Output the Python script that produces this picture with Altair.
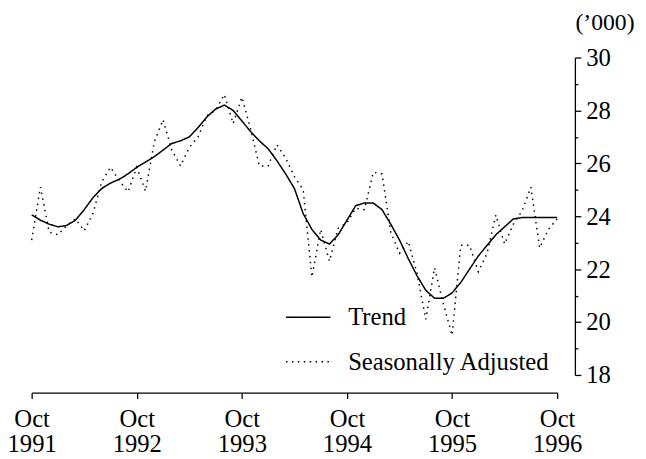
import pandas as pd
import altair as alt

# monthly index, Oct 1991 = 0 ... Oct 1996 = 60
trend = [24.05, 23.85, 23.7, 23.6, 23.65, 23.85, 24.25, 24.7, 25.05, 25.25,
         25.4, 25.6, 25.85, 26.05, 26.25, 26.5, 26.75, 26.85, 27.0, 27.35,
         27.75, 28.05, 28.2, 28.0, 27.6, 27.2, 26.85, 26.55, 26.1, 25.6,
         25.05, 24.1, 23.5, 23.1, 22.95, 23.3, 23.85, 24.4, 24.5, 24.5,
         24.25, 23.7, 23.1, 22.4, 21.75, 21.2, 20.9, 20.9, 21.1, 21.5,
         22.0, 22.5, 22.9, 23.3, 23.6, 23.9, 23.95, 23.95, 23.95, 23.95, 23.95]

seas_adj = [23.1, 25.1, 23.4, 23.3, 23.65, 23.9, 23.45, 24.1, 25.3, 25.85,
            25.35, 24.92, 25.85, 24.95, 26.8, 27.65, 26.5, 25.9, 26.6, 27.0,
            27.8, 28.0, 28.6, 27.5, 28.5, 27.3, 25.9, 25.9, 26.7, 26.2,
            25.5, 25.0, 21.7, 23.5, 22.3, 23.55, 23.75, 24.3, 24.25, 25.66,
            25.6, 23.4, 22.6, 23.05, 21.85, 20.1, 22.05, 20.7, 19.5, 22.9,
            22.9, 21.9, 22.6, 24.05, 22.95, 23.7, 24.2, 25.1, 22.8, 23.5, 23.9]

series_names = ['Trend', 'Seasonally Adjusted']
tick_months = [0, 12, 24, 36, 48, 60]
tick_years = [1991, 1992, 1993, 1994, 1995, 1996]
y_ticks = list(range(18, 31))

df = pd.concat([
    pd.DataFrame({'m': range(len(trend)), 'v': trend, 's': series_names[0]}),
    pd.DataFrame({'m': range(len(seas_adj)), 'v': seas_adj, 's': series_names[1]}),
])

serif = 'Liberation Serif'
fs = 25

x_label = "['Oct', '' + %s[indexof(%s, datum.value)]]" % (tick_years, tick_months)

legend = alt.Legend(title=None, orient='none', legendX=257, legendY=240,
                    symbolType='stroke', symbolSize=2025, symbolStrokeWidth=1.5,
                    labelFont=serif, labelFontSize=fs, labelColor='black', labelLimit=400,
                    labelOffset=17, rowPadding=8, padding=0)

chart = alt.Chart(df).mark_line(strokeWidth=1.5, strokeCap='butt').encode(
    alt.X('m:Q', scale=alt.Scale(domain=[0, 60], nice=False),
          axis=alt.Axis(values=tick_months, labelExpr=x_label, title=None, grid=False,
                        offset=18, tickSize=6, labelPadding=8, labelLineHeight=26,
                        labelFlush=False, labelBound=False, labelOverlap=False,
                        labelFont=serif, labelFontSize=fs, labelColor='black',
                        domainColor='black', tickColor='black', domainWidth=1.3, tickWidth=1.3)),
    alt.Y('v:Q', scale=alt.Scale(domain=[18, 30], nice=False, zero=False),
          axis=alt.Axis(orient='right', values=y_ticks, offset=18,
                        labelExpr="datum.value % 2 == 0 ? datum.label : ''",
                        tickSize={'condition': {'test': 'datum.value % 2 == 0', 'value': 6}, 'value': 3},
                        labelPadding=5, labelFont=serif, labelFontSize=fs, labelColor='black',
                        labelFlush=False, labelOverlap=False,
                        domainColor='black', tickColor='black', domainWidth=1.3, tickWidth=1.3,
                        grid=False, title="(’000)", titleAngle=0, titleAlign='left',
                        titleBaseline='middle', titleX=0, titleY=-35, titleFont=serif,
                        titleFontSize=24, titleFontWeight='normal', titleColor='black')),
    alt.Color('s:N', scale=alt.Scale(domain=series_names, range=['black', 'black']),
              legend=legend),
    alt.StrokeDash('s:N', scale=alt.Scale(domain=series_names, range=[[1, 0], [1.5, 4.5]]),
                   legend=legend),
).properties(
    width=533, height=322,
    autosize=alt.AutoSizeParams(type='none'),
    padding={'left': 24, 'top': 47, 'right': 82, 'bottom': 80},
    background='white',
).configure_view(strokeWidth=0, stroke='transparent')

chart.save("out.html", embed_options={"renderer": "svg", "actions": False})
